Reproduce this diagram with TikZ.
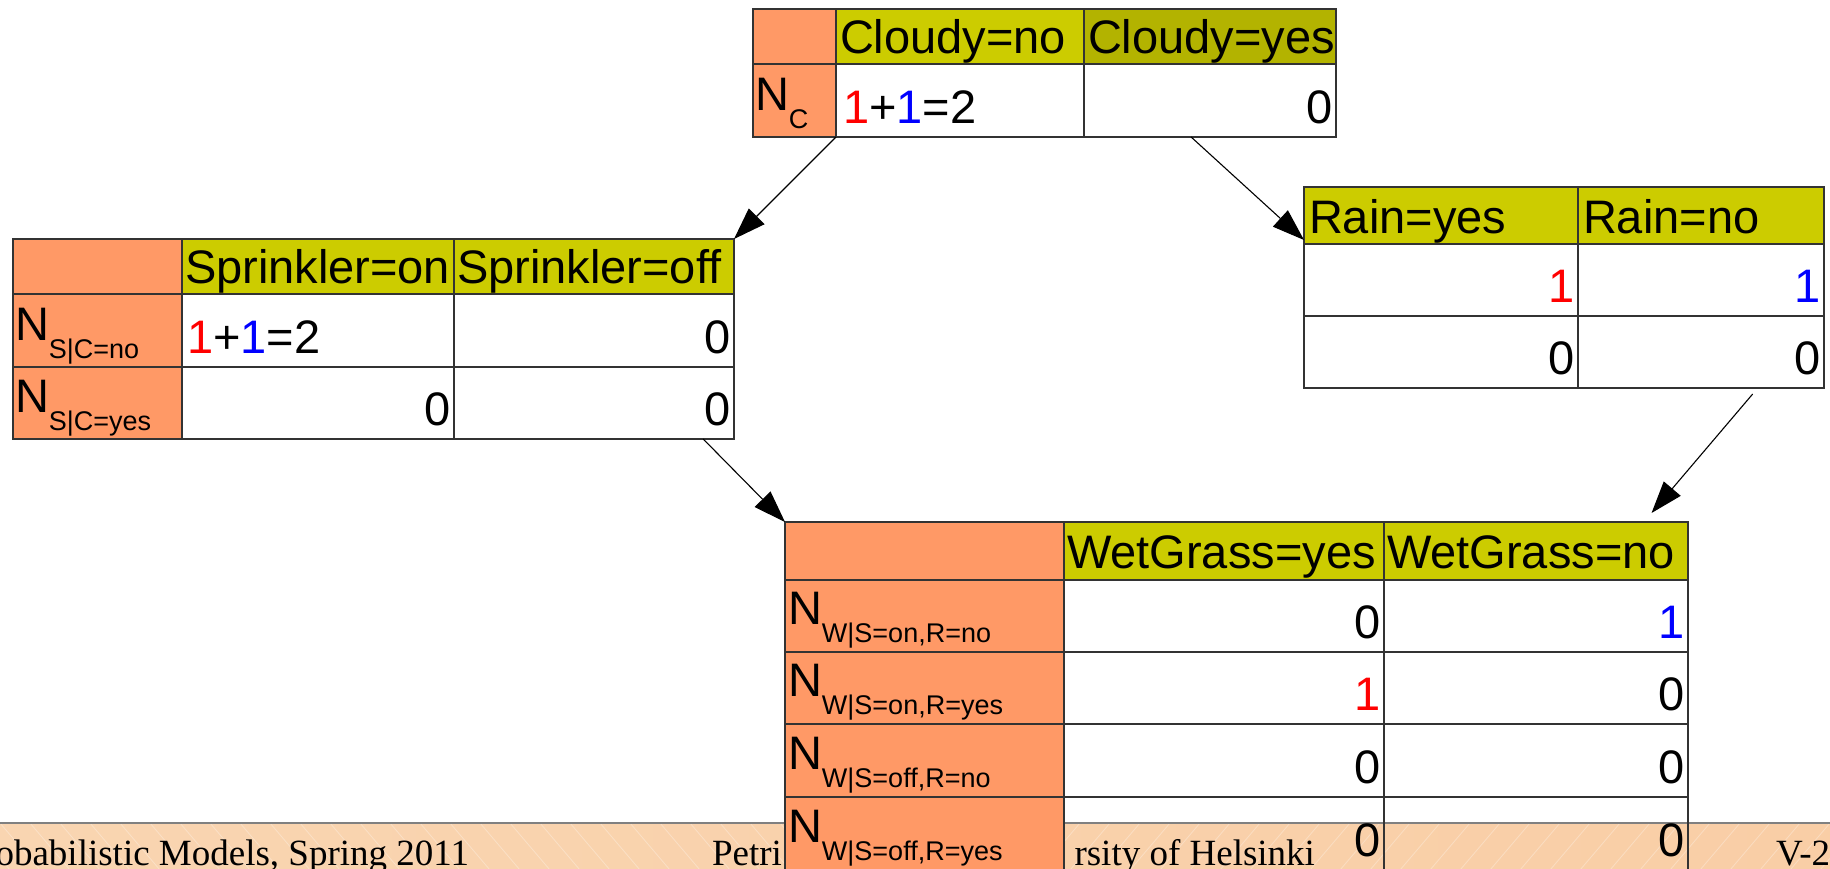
\documentclass[tikz,border=0pt]{standalone}
\usepackage{fontspec}
\setmainfont{Liberation Sans}
\newfontfamily\footfont{Liberation Serif}
\usetikzlibrary{arrows.meta,calc}

\definecolor{hdyellow}{HTML}{CCCC00}
\definecolor{hdolive}{HTML}{B3B300}
\definecolor{lborange}{HTML}{FF9966}
\definecolor{cntred}{HTML}{FF0000}
\definecolor{cntblue}{HTML}{0000FF}
\definecolor{barleft}{RGB}{249,213,177}
\definecolor{barmid}{RGB}{242,222,203}
\definecolor{barright}{RGB}{249,206,166}

\newcommand\bigsz{\fontsize{23.5pt}{28pt}\selectfont}
\newcommand\subsz{\fontsize{13.5pt}{16pt}\selectfont}
\newcommand\footsz{\fontsize{18.5pt}{22pt}\selectfont}

% table cell: name, x1, y1, x2, y2 (pixel grid, y downwards), extra style
\newcommand\cellat[6]{%
  \pgfmathsetmacro\cw{(#4-#2)*0.5}\pgfmathsetmacro\ch{(#5-#3)*0.5}%
  \node[cellbox,#6,anchor=north west,minimum width=\cw pt,minimum height=\ch pt] (#1) at (#2,#3) {};}
% count label N with a subscript
\newcommand\lab[1]{N\lower9pt\hbox{\subsz #1}}
\newcommand\rd[1]{\textcolor{cntred}{#1}}
\newcommand\bl[1]{\textcolor{cntblue}{#1}}

\tikzset{
  cellbox/.style={rectangle, draw=black!80, line width=0.6pt, inner sep=0pt, outer sep=0pt},
  hdcell/.style={fill=hdyellow},
  hdcell2/.style={fill=hdolive},
  lbcell/.style={fill=lborange},
  txt/.style={inner sep=0pt, outer sep=0pt, font=\bigsz},
  hdtxt/.style={txt, anchor=base west},
  lnum/.style={txt, anchor=base west},
  rnum/.style={txt, anchor=base east},
  labtxt/.style={txt, anchor=base west},
  foot/.style={inner sep=0pt, outer sep=0pt, font=\footfont\footsz},
  link/.style={line width=0.55pt, -{Triangle[length=16pt,width=11pt]}}
}

\begin{document}
\begin{tikzpicture}[x=0.5pt,y=-0.5pt]
\clip (0,0) rectangle (1830,868);
\fill[white] (0,0) rectangle (1830,868);

% ---- slide footer bar ----
\shade[left color=barleft, middle color=barmid, right color=barright] (0,823) rectangle (1830,870);
\begin{scope}
  \clip (0,823) rectangle (1830,870);
  \foreach \x in {-60,-30,...,900} \draw[white, opacity=0.3, line width=0.4pt] (\x,823) -- ++(40,47);
  \foreach \x in {930,960,...,1900} \draw[white, opacity=0.3, line width=0.4pt] (\x,823) -- ++(-40,47);
\end{scope}
\draw[black!50, line width=1.2pt] (0,823) -- (1830,823);
\node[foot, anchor=base east] (ftL) at (469,865) {Probabilistic Models, Spring 2011};
\node[foot, anchor=base west] (ftM) at (712,865) {Petri};
\node[foot, anchor=base east] (ftM2) at (1315,865) {rsity of Helsinki};
\node[foot, anchor=base west] (ftR) at (1776,865) {V-2};

% ---- table C ----
\cellat{C00}{753}{9}{836}{64}{lbcell}
\cellat{Ch1}{836}{9}{1084}{64}{hdcell}
\cellat{Ch2}{1084}{9}{1336}{64}{hdcell2}
\cellat{Cl1}{753}{64}{836}{137}{lbcell}
\cellat{C11}{836}{64}{1084}{137}{}
\cellat{C12}{1084}{64}{1336}{137}{}
\node[hdtxt] (Ch1t) at ([shift={(4,-11)}]Ch1.south west) {Cloudy=no};
\node[hdtxt] (Ch2t) at ([shift={(4,-11)}]Ch2.south west) {Cloudy=yes};
\node[labtxt] (Cl1t) at ([shift={(2,-27)}]Cl1.south west) {\lab{C}};
\node[lnum] (C11t) at ([shift={(7,-14)}]C11.south west) {\rd{1}+\bl{1}=2};
\node[rnum] (C12t) at ([shift={(-3,-14)}]C12.south east) {0};

% ---- table S ----
\cellat{S00}{13}{239}{182}{294}{lbcell}
\cellat{Sh1}{182}{239}{454}{294}{hdcell}
\cellat{Sh2}{454}{239}{734}{294}{hdcell}
\cellat{Sl1}{13}{294}{182}{367}{lbcell}
\cellat{S11}{182}{294}{454}{367}{}
\cellat{S12}{454}{294}{734}{367}{}
\cellat{Sl2}{13}{367}{182}{439}{lbcell}
\cellat{S21}{182}{367}{454}{439}{}
\cellat{S22}{454}{367}{734}{439}{}
\node[hdtxt] (Sh1t) at ([shift={(3,-11)}]Sh1.south west) {Sprinkler=on};
\node[hdtxt] (Sh2t) at ([shift={(3,-11)}]Sh2.south west) {Sprinkler=off};
\node[labtxt] (Sl1t) at ([shift={(2,-27)}]Sl1.south west) {\lab{S|C=no}};
\node[labtxt] (Sl2t) at ([shift={(2,-27)}]Sl2.south west) {\lab{S|C=yes}};
\node[lnum] (S11t) at ([shift={(5,-14)}]S11.south west) {\rd{1}+\bl{1}=2};
\node[rnum] (S12t) at ([shift={(-3,-14)}]S12.south east) {0};
\node[rnum] (S21t) at ([shift={(-3,-14)}]S21.south east) {0};
\node[rnum] (S22t) at ([shift={(-3,-14)}]S22.south east) {0};

% ---- table R ----
\cellat{Rh1}{1304}{187}{1578}{244}{hdcell}
\cellat{Rh2}{1578}{187}{1824}{244}{hdcell}
\cellat{R11}{1304}{244}{1578}{316}{}
\cellat{R12}{1578}{244}{1824}{316}{}
\cellat{R21}{1304}{316}{1578}{388}{}
\cellat{R22}{1578}{316}{1824}{388}{}
\node[hdtxt] (Rh1t) at ([shift={(5,-11)}]Rh1.south west) {Rain=yes};
\node[hdtxt] (Rh2t) at ([shift={(5,-11)}]Rh2.south west) {Rain=no};
\node[rnum] (R11t) at ([shift={(-3,-14)}]R11.south east) {\rd{1}};
\node[rnum] (R12t) at ([shift={(-3,-14)}]R12.south east) {\bl{1}};
\node[rnum] (R21t) at ([shift={(-3,-14)}]R21.south east) {0};
\node[rnum] (R22t) at ([shift={(-3,-14)}]R22.south east) {0};

% ---- table W ----
\cellat{W00}{785}{522}{1064}{580}{lbcell}
\cellat{Wh1}{1064}{522}{1384}{580}{hdcell}
\cellat{Wh2}{1384}{522}{1688}{580}{hdcell}
\cellat{Wl1}{785}{580}{1064}{652}{lbcell}
\cellat{W11}{1064}{580}{1384}{652}{}
\cellat{W12}{1384}{580}{1688}{652}{}
\cellat{Wl2}{785}{652}{1064}{724}{lbcell}
\cellat{W21}{1064}{652}{1384}{724}{}
\cellat{W22}{1384}{652}{1688}{724}{}
\cellat{Wl3}{785}{724}{1064}{797}{lbcell}
\cellat{W31}{1064}{724}{1384}{797}{}
\cellat{W32}{1384}{724}{1688}{797}{}
\cellat{Wl4}{785}{797}{1064}{870}{lbcell}
\cellat{W41}{1064}{797}{1384}{870}{}
\cellat{W42}{1384}{797}{1688}{870}{}
\node[hdtxt] (Wh1t) at ([shift={(3,-12)}]Wh1.south west) {WetGrass=yes};
\node[hdtxt] (Wh2t) at ([shift={(3,-12)}]Wh2.south west) {WetGrass=no};
\node[labtxt] (Wl1t) at ([shift={(3,-28)}]Wl1.south west) {\lab{W|S=on,R=no}};
\node[labtxt] (Wl2t) at ([shift={(3,-28)}]Wl2.south west) {\lab{W|S=on,R=yes}};
\node[labtxt] (Wl3t) at ([shift={(3,-28)}]Wl3.south west) {\lab{W|S=off,R=no}};
\node[labtxt] (Wl4t) at ([shift={(3,-28)}]Wl4.south west) {\lab{W|S=off,R=yes}};
\node[rnum] (W11t) at ([shift={(-3,-14)}]W11.south east) {0};
\node[rnum] (W12t) at ([shift={(-3,-14)}]W12.south east) {\bl{1}};
\node[rnum] (W21t) at ([shift={(-3,-14)}]W21.south east) {\rd{1}};
\node[rnum] (W22t) at ([shift={(-3,-14)}]W22.south east) {0};
\node[rnum] (W31t) at ([shift={(-3,-14)}]W31.south east) {0};
\node[rnum] (W32t) at ([shift={(-3,-14)}]W32.south east) {0};
\node[rnum] (W41t) at ([shift={(-3,-14)}]W41.south east) {0};
\node[rnum] (W42t) at ([shift={(-3,-14)}]W42.south east) {0};

% ---- dependency arrows ----
\draw[link] (Cl1.south east) -- (Sh2.north east);
\draw[link] ($(C12.south west)!0.425!(C12.south east)$) -- ([yshift=2pt]Rh1.south west);
\draw[link] ($(S22.south west)!0.89!(S22.south east)$) -- (W00.north west);
\draw[link] ($(R22.south west)!0.71!(R22.south east)+(0,6)$) -- ($(Wh2.north west)!0.88!(Wh2.north east)+(0,-9)$);
\end{tikzpicture}
\end{document}
